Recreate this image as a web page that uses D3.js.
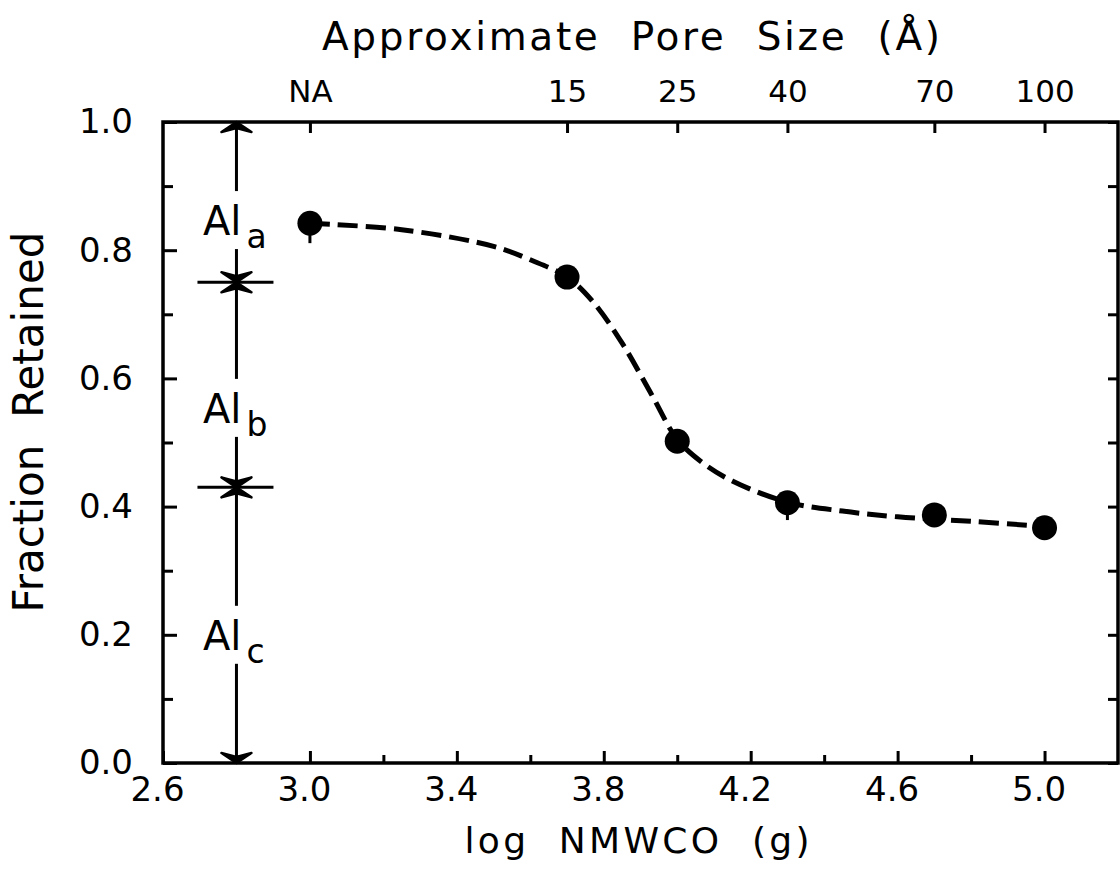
<!DOCTYPE html>
<html>
<head>
<meta charset="utf-8">
<script src="https://cdn.jsdelivr.net/npm/d3@7"></script>
<style>
  body { margin: 0; background: #fff; }
  svg { display: block; }
  text { font-family: "DejaVu Sans", sans-serif; fill: #000; }
</style>
</head>
<body>
<svg id="chart" width="1120" height="875"></svg>
<script>
// measured points
var logMW = [3.0, 3.7, 4.0, 4.3, 4.7, 5.0];
var fracRetained = [0.842, 0.758, 0.502, 0.406, 0.387, 0.367];
var errLow = [0.031, 0.01, 0.01, 0.027, 0.015, 0.005];
var poreLabels = ["NA", "15", "25", "40", "70", "100"];

// dashed fit line
var fitX = [3.0, 3.25, 3.5, 3.6, 3.7, 3.77, 3.85, 3.93, 4.0, 4.07, 4.15, 4.3, 4.45, 4.6, 4.8, 5.0];
var fitY = [0.842, 0.832, 0.806, 0.785, 0.758, 0.72, 0.655, 0.575, 0.505, 0.468, 0.44, 0.407, 0.393, 0.384, 0.377, 0.369];

// aluminium fractions a, b, c
var fracBounds = [1.0, 0.75, 0.43, 0.0];
var fracNames = ["a", "b", "c"];
var fracLabelY = [0.847, 0.554, 0.2];
var annotX = 2.8;

var xMajor = [2.6, 3.0, 3.4, 3.8, 4.2, 4.6, 5.0];
var xMinor = [2.8, 3.2, 3.6, 4.0, 4.4, 4.8];
var yMajor = [0.0, 0.2, 0.4, 0.6, 0.8, 1.0];
var yMinor = [0.1, 0.3, 0.5, 0.7, 0.9];

var pLeft = 163, pRight = 1118, pTop = 122, pBottom = 763;

var svg = d3.select("#chart");
var x = d3.scaleLinear().domain([2.6, 5.2]).range([pLeft, pRight]);
var y = d3.scaleLinear().domain([0, 1]).range([pBottom, pTop]);

function styleAxis(g, fs) {
    g.select(".domain").remove();
    g.selectAll("line").attr("stroke", "#000").attr("stroke-width", 3);
    g.selectAll("text").style("font-size", fs + "px").attr("fill", "#000");
}

// bottom axis
svg.append("g").attr("transform", "translate(0," + pBottom + ")")
    .call(d3.axisBottom(x).tickValues(xMajor).tickSizeInner(-12).tickSizeOuter(0).tickPadding(14).tickFormat(d3.format(".1f")))
    .call(styleAxis, 34)
    .selectAll("text").attr("dx", -6);
svg.append("g").attr("transform", "translate(0," + pBottom + ")")
    .call(d3.axisBottom(x).tickValues(xMinor).tickSizeInner(-8).tickSizeOuter(0).tickFormat(""))
    .call(styleAxis, 34);

// left axis
svg.append("g").attr("transform", "translate(" + pLeft + ",0)")
    .call(d3.axisLeft(y).tickValues(yMajor).tickSizeInner(-14).tickSizeOuter(0).tickPadding(30).tickFormat(d3.format(".1f")))
    .call(styleAxis, 34);
svg.append("g").attr("transform", "translate(" + pLeft + ",0)")
    .call(d3.axisLeft(y).tickValues(yMinor).tickSizeInner(-10).tickSizeOuter(0).tickFormat(""))
    .call(styleAxis, 34);

// right axis
svg.append("g").attr("transform", "translate(" + pRight + ",0)")
    .call(d3.axisRight(y).tickValues(yMajor.concat(yMinor)).tickSizeInner(-10).tickSizeOuter(0).tickFormat(""))
    .call(styleAxis, 34);

// top axis: pore size
svg.append("g").attr("transform", "translate(0," + pTop + ")")
    .call(d3.axisTop(x).tickValues(logMW).tickSizeInner(-11).tickSizeOuter(0).tickPadding(20)
        .tickFormat(function(d, i) { return poreLabels[i]; }))
    .call(styleAxis, 31);

// frame
svg.append("rect")
    .attr("x", pLeft).attr("y", pTop)
    .attr("width", pRight - pLeft).attr("height", pBottom - pTop)
    .attr("fill", "none").attr("stroke", "#000").attr("stroke-width", 3.5);

// titles
svg.append("text")
    .attr("x", 631).attr("y", 50)
    .attr("text-anchor", "middle")
    .attr("textLength", 618).attr("lengthAdjust", "spacing")
    .style("font-size", "39px").style("white-space", "pre")
    .text("Approximate  Pore  Size  (Å)");

svg.append("text")
    .attr("x", 637).attr("y", 853)
    .attr("text-anchor", "middle")
    .attr("textLength", 345).attr("lengthAdjust", "spacing")
    .style("font-size", "36px").style("white-space", "pre")
    .text("log  NMWCO  (g)");

svg.append("text")
    .attr("transform", "translate(43,422) rotate(-90)")
    .attr("text-anchor", "middle")
    .attr("textLength", 381).attr("lengthAdjust", "spacing")
    .style("font-size", "42px").style("white-space", "pre")
    .text("Fraction  Retained");

// annotation: Al fractions
var ax = x(annotX);
var ann = svg.append("g");
ann.append("line")
    .attr("x1", ax).attr("x2", ax)
    .attr("y1", y(fracBounds[0])).attr("y2", y(fracBounds[fracBounds.length - 1]))
    .attr("stroke", "#000").attr("stroke-width", 3);

// separators
ann.selectAll("line.sep")
    .data(fracBounds.slice(1, -1))
    .enter().append("line")
    .attr("class", "sep")
    .attr("x1", ax - 39).attr("x2", ax + 37)
    .attr("y1", function(d) { return y(d); })
    .attr("y2", function(d) { return y(d); })
    .attr("stroke", "#000").attr("stroke-width", 3);

// arrow heads: each segment is double headed
function head(tipY, dir) {
    // dir = 1 points up (base below tip), -1 points down
    var b = tipY + dir * 10, n = tipY + dir * 6;
    return "M" + ax + "," + tipY + "L" + (ax - 15) + "," + b + "L" + ax + "," + n + "L" + (ax + 15) + "," + b + "Z";
}
var heads = [];
for (var i = 0; i < fracBounds.length - 1; i += 1) {
    heads.push(head(y(fracBounds[i]), 1));
    heads.push(head(y(fracBounds[i + 1]), -1));
}
ann.selectAll("path.head")
    .data(heads)
    .enter().append("path")
    .attr("class", "head")
    .attr("d", function(d) { return d; })
    .attr("fill", "#000").attr("stroke", "#000").attr("stroke-width", 2.5)
    .attr("stroke-linejoin", "round");

// gaps + labels
ann.selectAll("rect.gap")
    .data(fracLabelY)
    .enter().append("rect")
    .attr("class", "gap")
    .attr("x", ax - 6).attr("width", 12)
    .attr("y", function(d) { return y(d) - 29; })
    .attr("height", 58)
    .attr("fill", "#fff");

ann.selectAll("text.al")
    .data(fracLabelY)
    .enter().append("text")
    .attr("class", "al")
    .attr("x", ax + 5).attr("y", function(d) { return y(d) + 15; })
    .attr("text-anchor", "end")
    .style("font-size", "40px")
    .text("Al");

ann.selectAll("text.sub")
    .data(fracLabelY)
    .enter().append("text")
    .attr("class", "sub")
    .attr("x", ax + 10).attr("y", function(d) { return y(d) + 28; })
    .style("font-size", "33px")
    .text(function(d, i) { return fracNames[i]; });

// fit curve
var fitPts = fitX.map(function(d, i) { return [d, fitY[i]]; });
svg.append("path")
    .datum(fitPts)
    .attr("d", d3.line()
        .x(function(d) { return x(d[0]); })
        .y(function(d) { return y(d[1]); })
        .curve(d3.curveCatmullRom.alpha(0.5)))
    .attr("fill", "none").attr("stroke", "#000")
    .attr("stroke-width", 5).attr("stroke-dasharray", "20,8");

// error bars (lower side)
svg.selectAll("line.err")
    .data(logMW)
    .enter().append("line")
    .attr("class", "err")
    .attr("x1", function(d) { return x(d); })
    .attr("x2", function(d) { return x(d); })
    .attr("y1", function(d, i) { return y(fracRetained[i]); })
    .attr("y2", function(d, i) { return y(fracRetained[i] - errLow[i]); })
    .attr("stroke", "#000").attr("stroke-width", 3);

// points
svg.selectAll("circle.pt")
    .data(logMW)
    .enter().append("circle")
    .attr("class", "pt")
    .attr("cx", function(d) { return x(d); })
    .attr("cy", function(d, i) { return y(fracRetained[i]); })
    .attr("r", 12.5)
    .attr("fill", "#000");
</script>
</body>
</html>
